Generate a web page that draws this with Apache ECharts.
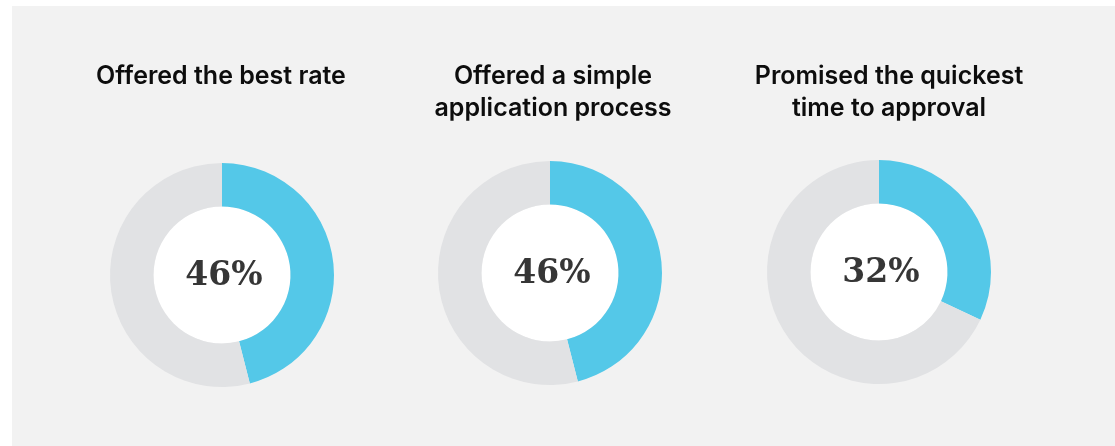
<!DOCTYPE html>
<html>
<head>
<meta charset="utf-8">
<script src="https://cdn.jsdelivr.net/npm/echarts@6/dist/echarts.min.js"></script>
<style>
  html, body { margin: 0; padding: 0; background: #ffffff; }
  #chart { width: 1115px; height: 446px; }
</style>
</head>
<body>
<div id="chart"></div>
<script>
// Share of respondents per reason
const categories = [
  'Offered the best rate',
  'Offered a simple\napplication process',
  'Promised the quickest\ntime to approval'
];
const shares = [46, 46, 32];

// Donut geometry and placement
const centersX = [222, 550, 879];
const centersY = [275, 273, 272];
const titlesX = [216, 548, 884];
const innerR = 68.5;
const outerR = 112;
const titleTop = 55;

const accent = '#54c8e8';
const track = '#e1e2e4';

const chart = echarts.init(document.getElementById('chart'), null, { renderer: 'canvas' });

const titles = categories.map((name, i) => ({
  text: name,
  left: titlesX[i],
  top: titleTop,
  textAlign: 'center',
  textStyle: {
    fontFamily: 'Inter, "Noto Sans", sans-serif',
    fontWeight: 600,
    fontSize: 25,
    lineHeight: 32,
    color: '#0d0d0d'
  }
}));

const series = [];
shares.forEach((v, i) => {
  // white hole behind the value
  series.push({
    type: 'pie',
    silent: true,
    center: [centersX[i], centersY[i]],
    radius: [0, innerR],
    label: { show: false },
    labelLine: { show: false },
    itemStyle: { color: '#ffffff' },
    data: [{ value: 1 }],
    z: 1
  });
  // ring: share vs remainder
  series.push({
    type: 'pie',
    silent: true,
    center: [centersX[i], centersY[i]],
    radius: [innerR, outerR],
    startAngle: 90,
    clockwise: true,
    avoidLabelOverlap: false,
    labelLine: { show: false },
    emphasis: { disabled: true },
    data: [
      {
        value: v,
        itemStyle: { color: accent },
        label: {
          show: true,
          position: 'center',
          formatter: '{c}%',
          fontFamily: '"DejaVu Serif", "Liberation Serif", serif',
          fontWeight: 'bold',
          fontSize: 33,
          color: '#363636',
          offset: [2, 1]
        }
      },
      {
        value: 100 - v,
        itemStyle: { color: track },
        label: { show: false }
      }
    ],
    z: 2
  });
});

chart.setOption({
  backgroundColor: '#ffffff',
  animation: false,
  graphic: [{
    type: 'rect',
    z: -10,
    silent: true,
    shape: { x: 12, y: 6, width: 1103, height: 440 },
    style: { fill: '#f2f2f2' }
  }],
  title: titles,
  series: series
});
</script>
</body>
</html>
